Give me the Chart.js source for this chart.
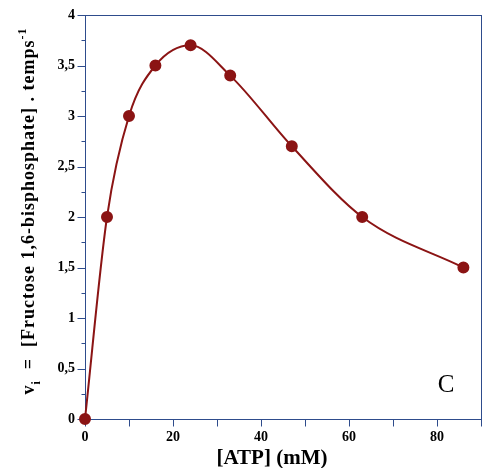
<!DOCTYPE html>
<html>
<head>
<meta charset="utf-8">
<script src="https://cdn.jsdelivr.net/npm/chart.js@4"></script>
<style>
html,body{margin:0;padding:0;background:#fff;}
#wrap{width:488px;height:468px;position:relative;}
</style>
</head>
<body>
<div id="wrap"><canvas id="c" width="488" height="468"></canvas></div>
<script>
// Data
const atp = [0, 5, 10, 16, 24, 33, 47, 63, 86];          // [ATP] (mM)
const vi  = [0, 2, 3, 3.5, 3.7, 3.4, 2.7, 2, 1.5];         // v_i
const xTickLabels = ['0', '20', '40', '60', '80'];
const yTickLabels = ['0', '0,5', '1', '1,5', '2', '2,5', '3', '3,5', '4'];
const xTitle = '[ATP] (mM)';
const yTitleParts = ['v', 'i', '  =  [Fructose 1,6-bisphosphate] . temps', '-1'];
const panelLetter = 'C';

const AXIS = '#2E4C8C';
const RED = '#8B1414';
const SERIF = '"Liberation Serif", "Times New Roman", serif';
const CLEAR = 'rgba(0,0,0,0)';

const points = atp.map((x, i) => ({x: x, y: vi[i]}));

const decor = {
  id: 'decor',
  beforeDatasetsDraw(chart) {
    const ctx = chart.ctx;
    const a = chart.chartArea;
    const xs = chart.scales.x, ys = chart.scales.y;
    ctx.save();
    ctx.strokeStyle = AXIS;
    ctx.lineWidth = 1;
    const L = Math.round(a.left) + 0.5, R = Math.round(a.right) + 0.5;
    const T = Math.round(a.top) + 0.5, B = Math.round(a.bottom) + 0.5;
    ctx.strokeRect(L, T, R - L, B - T);
    ctx.beginPath();
    // x ticks every 10, outward, 7px
    for (let v = 0; v <= 90; v += 10) {
      const px = Math.round(xs.getPixelForValue(v)) + 0.5;
      ctx.moveTo(px, B); ctx.lineTo(px, B + 7);
    }
    // y ticks: major every 0.5 (8px), minor every 0.25 (4px)
    for (let k = 0; k <= 16; k++) {
      const py = Math.round(ys.getPixelForValue(k / 4)) + 0.5;
      const len = k % 2 === 0 ? 8 : 4;
      ctx.moveTo(L, py); ctx.lineTo(L - len, py);
    }
    ctx.stroke();
    ctx.restore();
  },
  afterDraw(chart) {
    const ctx = chart.ctx;
    ctx.save();
    ctx.fillStyle = '#000';
    // x title
    ctx.font = 'bold 21px ' + SERIF;
    ctx.textAlign = 'center';
    ctx.textBaseline = 'alphabetic';
    ctx.fillText(xTitle, 272, 464);
    // panel letter
    ctx.font = '25px ' + SERIF;
    ctx.fillText(panelLetter, 446, 392);
    // y title (rotated, with subscript and superscript)
    ctx.letterSpacing = '1px';
    const mainFont = 'bold 18px ' + SERIF;
    const smallFont = 'bold 12px ' + SERIF;
    ctx.font = mainFont; const w0 = ctx.measureText(yTitleParts[0]).width;
    ctx.font = smallFont; const w1 = ctx.measureText(yTitleParts[1]).width;
    ctx.font = mainFont; const w2 = ctx.measureText(yTitleParts[2]).width;
    ctx.font = smallFont; const w3 = ctx.measureText(yTitleParts[3]).width;
    const total = w0 + w1 + w2 + w3;
    ctx.translate(34, 211);
    ctx.rotate(-Math.PI / 2);
    ctx.textAlign = 'left';
    let x = -total / 2;
    ctx.font = mainFont; ctx.fillText(yTitleParts[0], x, 0); x += w0;
    ctx.font = smallFont; ctx.fillText(yTitleParts[1], x, 6); x += w1;
    ctx.font = mainFont; ctx.fillText(yTitleParts[2], x, 0); x += w2;
    ctx.font = smallFont; ctx.fillText(yTitleParts[3], x, -8);
    ctx.restore();
  }
};

new Chart(document.getElementById('c'), {
  type: 'scatter',
  data: {
    datasets: [{
      data: points,
      showLine: true,
      cubicInterpolationMode: 'monotone',
      borderColor: RED,
      borderWidth: 2,
      backgroundColor: RED,
      pointBackgroundColor: RED,
      pointBorderColor: RED,
      pointRadius: 5,
      pointHoverRadius: 5,
      clip: false
    }]
  },
  options: {
    responsive: false,
    animation: false,
    events: [],
    layout: { padding: { left: 0, right: 7, top: 15, bottom: 0 } },
    plugins: { legend: { display: false }, tooltip: { enabled: false } },
    scales: {
      x: {
        type: 'linear',
        min: 0, max: 90,
        afterFit(s) { s.height = 49; },
        ticks: {
          stepSize: 10,
          autoSkip: false,
          maxRotation: 0,
          padding: 3,
          color: '#000',
          font: { family: SERIF, size: 14, weight: 'bold' },
          callback: (v) => (v % 20 === 0 ? xTickLabels[v / 20] : '')
        },
        grid: { display: true, drawOnChartArea: false, drawTicks: true, tickLength: 7, color: CLEAR },
        border: { display: false }
      },
      y: {
        type: 'linear',
        min: 0, max: 4,
        afterFit(s) { s.width = 85; },
        ticks: {
          stepSize: 0.25,
          autoSkip: false,
          padding: 2,
          color: '#000',
          font: { family: SERIF, size: 14, weight: 'bold' },
          callback: (v) => {
            const k = Math.round(v * 4);
            return k % 2 === 0 ? yTickLabels[k / 2] : '';
          }
        },
        grid: { display: true, drawOnChartArea: false, drawTicks: true, tickLength: 8, color: CLEAR },
        border: { display: false }
      }
    }
  },
  plugins: [decor]
});
</script>
</body>
</html>
